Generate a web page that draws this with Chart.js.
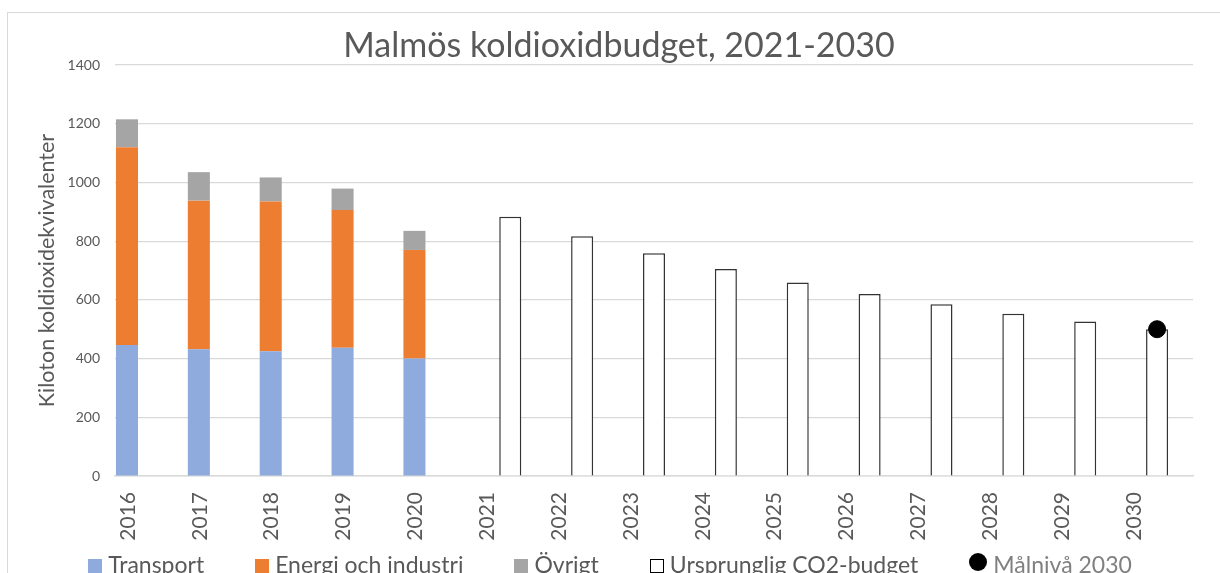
<!DOCTYPE html>
<html lang="sv">
<head>
<meta charset="utf-8">
<title>Malmös koldioxidbudget, 2021-2030</title>
<script src="https://cdn.jsdelivr.net/npm/chart.js@4.4.1/dist/chart.umd.min.js"></script>
<style>
  html, body { margin: 0; padding: 0; background: #fff; overflow: hidden; }
  #wrap { position: relative; width: 1220px; height: 573px; overflow: hidden; }
  #frame { position: absolute; left: 7px; top: 12px; width: 1300px; height: 700px;
           border-left: 1px solid #d9d9d9; border-top: 1px solid #d9d9d9; }
  #chart { position: absolute; left: 0; top: 0; }
  #legend { position: absolute; left: 0; top: 551px; width: 1220px; display: flex;
            justify-content: center; gap: 51px; font: 23px Lato, "Open Sans", sans-serif;
            line-height: 26px; white-space: nowrap; color: #595959; }
  #legend .item { display: flex; align-items: flex-start; }
  #legend .box { width: 14px; height: 14px; margin: 8px 6px 0 0; box-sizing: border-box; }
  #legend .dot { width: 18px; height: 18px; margin: 2px 6px 0 0; border-radius: 50%; }
</style>
</head>
<body>
<div id="wrap">
  <div id="frame"></div>
  <canvas id="chart" width="1220" height="573"></canvas>
  <div id="legend"></div>
</div>
<script>
// years on the x axis
const years = ['2016', '2017', '2018', '2019', '2020', '2021', '2022', '2023',
               '2024', '2025', '2026', '2027', '2028', '2029', '2030'];

// historic emissions, kiloton CO2e
const transport = [446, 432, 425, 437, 400];
const energi = [674, 506, 510, 469, 370];
const ovrigt = [95, 97, 82, 73, 65];

// budget 2021-2030
const budget = [null, null, null, null, null, 883, 817, 759, 705, 659, 620, 585, 553, 526, 500];

// target level 2030
const malniva = [null, null, null, null, null, null, null, null, null, null, null, null, null, null, 500];

Chart.defaults.font.family = 'Lato, "Open Sans", sans-serif';
Chart.defaults.color = '#595959';

const ctx = document.getElementById('chart');

const chart = new Chart(ctx, {
    type: 'bar',
    data: {
        labels: years,
        datasets: [
            { label: 'Transport', data: transport, backgroundColor: '#8faadc', stack: 'hist', borderWidth: 0 },
            { label: 'Energi och industri', data: energi, backgroundColor: '#ed7d31', stack: 'hist', borderWidth: 0 },
            { label: 'Övrigt', data: ovrigt, backgroundColor: '#a5a5a5', stack: 'hist', borderWidth: 0 },
            { label: 'Ursprunglig CO2-budget', data: budget, backgroundColor: '#ffffff',
              borderColor: '#333333', borderWidth: 1.5, stack: 'budget' },
            // empty third slot so the budget bars sit in the middle of each year
            { label: '', data: [], stack: 'spare' },
            { type: 'line', label: 'Målnivå 2030', data: malniva, showLine: false,
              pointRadius: 8.5, pointHoverRadius: 8.5, backgroundColor: '#000', borderColor: '#000', order: -1 }
        ]
    },
    options: {
        responsive: false,
        animation: false,
        categoryPercentage: 1,
        barPercentage: 0.92,
        layout: { padding: { left: 18, right: 0, top: 0, bottom: 0 } },
        scales: {
            x: {
                stacked: true,
                grid: { display: false, drawTicks: false },
                border: { display: true, color: '#d9d9d9', width: 1.5 },
                ticks: { minRotation: 90, maxRotation: 90, padding: 16, labelOffset: -23,
                         font: { size: 21 }, color: '#595959' },
                afterFit: (scale) => { scale.height = 97; }
            },
            y: {
                stacked: true,
                min: 0,
                max: 1400,
                grid: { color: '#d9d9d9', lineWidth: 1.2, drawTicks: false },
                border: { display: false },
                ticks: { stepSize: 200, padding: 15, font: { size: 14 }, color: '#595959',
                         callback: (v) => String(v) },
                title: { display: true, text: 'Kiloton koldioxidekvivalenter',
                         font: { size: 21.5 }, color: '#595959', padding: { top: 16, bottom: 0 } },
                afterFit: (scale) => { scale.width = 97; }
            },
            // blank right margin
            yRight: {
                position: 'right',
                grid: { display: false },
                border: { display: false },
                ticks: { display: false },
                afterFit: (scale) => { scale.width = 27; }
            }
        },
        plugins: {
            title: {
                display: true,
                text: 'Malmös koldioxidbudget, 2021-2030',
                font: { size: 34, weight: 'normal', lineHeight: 1.1 },
                color: '#595959',
                padding: { top: 27.6, bottom: 0 }
            },
            legend: { display: false },
            tooltip: { enabled: false }
        }
    }
});

// legend below the axis
const legend = document.getElementById('legend');
chart.data.datasets.forEach((ds) => {
    if (!ds.label) return;
    const item = document.createElement('div');
    item.className = 'item';
    const mark = document.createElement('span');
    if (ds.type === 'line') {
        mark.className = 'dot';
        mark.style.background = ds.backgroundColor;
        item.style.color = '#808080';
    } else {
        mark.className = 'box';
        mark.style.background = ds.backgroundColor;
        if (ds.borderWidth) mark.style.border = '1px solid #000';
    }
    const text = document.createElement('span');
    text.textContent = ds.label;
    item.appendChild(mark);
    item.appendChild(text);
    legend.appendChild(item);
});
</script>
</body>
</html>
